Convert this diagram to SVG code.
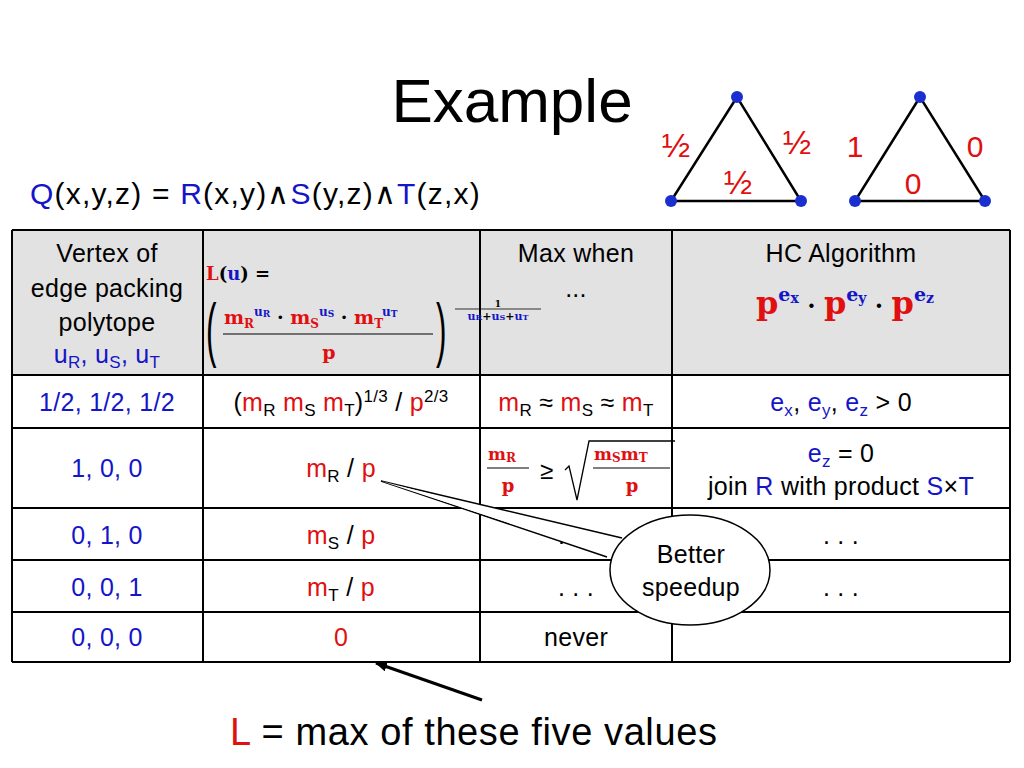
<svg xmlns="http://www.w3.org/2000/svg" width="1024" height="768" viewBox="0 0 1024 768">
<style>
text{font-family:"Liberation Sans",Arial,sans-serif;fill:#000}
.c{text-anchor:middle;font-size:25px;letter-spacing:0.3px}
.b{fill:#1515c8}.r{fill:#e01010}
.s{font-size:17px}
.m{font-family:"DejaVu Serif","Liberation Serif",serif;font-weight:bold}
.grid line{stroke:#000;stroke-width:2}
.dot{fill:#1a2fd0}
.edge{stroke:#000;stroke-width:2.5}
</style>
<defs><marker id="ah" markerWidth="12" markerHeight="10" refX="11" refY="5" orient="auto" markerUnits="userSpaceOnUse"><path d="M0,0L12,5L0,10z" fill="#000"/></marker></defs>
<rect width="1024" height="768" fill="#fff"/>
<text x="512" y="122" text-anchor="middle" font-size="62">Example</text>
<text x="30" y="204" font-size="30" letter-spacing="1.2"><tspan class="b">Q</tspan>(x,y,z) = <tspan class="b">R</tspan>(x,y)∧<tspan class="b">S</tspan>(y,z)∧<tspan class="b">T</tspan>(z,x)</text>
<g id="tri1">
<path class="edge" d="M737,97L671,201L801,201Z" fill="none"/>
<circle class="dot" cx="737" cy="97" r="6"/><circle class="dot" cx="671" cy="201" r="6"/><circle class="dot" cx="801" cy="201" r="6"/>
<text x="676" y="157" class="r" font-size="34" text-anchor="middle">½</text>
<text x="797" y="154" class="r" font-size="34" text-anchor="middle">½</text>
<text x="738" y="194" class="r" font-size="34" text-anchor="middle">½</text>
</g>
<g id="tri2">
<path class="edge" d="M920,97L855,201L985,201Z" fill="none"/>
<circle class="dot" cx="920" cy="97" r="6"/><circle class="dot" cx="855" cy="201" r="6"/><circle class="dot" cx="985" cy="201" r="6"/>
<text x="855" y="157" class="r" font-size="30" text-anchor="middle">1</text>
<text x="975" y="157" class="r" font-size="30" text-anchor="middle">0</text>
<text x="913" y="194" class="r" font-size="30" text-anchor="middle">0</text>
</g>
<g id="table">
<rect x="12" y="230" width="998" height="145" fill="#e2e2e2"/>
<g class="grid">
<line x1="12" y1="230" x2="1010" y2="230"/><line x1="12" y1="375" x2="1010" y2="375"/><line x1="12" y1="428" x2="1010" y2="428"/><line x1="12" y1="508" x2="1010" y2="508"/><line x1="12" y1="560" x2="1010" y2="560"/><line x1="12" y1="612" x2="1010" y2="612"/><line x1="12" y1="662" x2="1010" y2="662"/>
<line x1="12" y1="230" x2="12" y2="662"/><line x1="203" y1="230" x2="203" y2="662"/><line x1="480" y1="230" x2="480" y2="662"/><line x1="672" y1="230" x2="672" y2="662"/><line x1="1010" y1="230" x2="1010" y2="662"/>
</g>
<text class="c" x="107" y="262">Vertex of</text>
<text class="c" x="107" y="297">edge packing</text>
<text class="c" x="107" y="331">polytope</text>
<text class="c b" x="107" y="363">u<tspan class="s" dy="5">R</tspan><tspan dy="-5">, u</tspan><tspan class="s" dy="5">S</tspan><tspan dy="-5">, u</tspan><tspan class="s" dy="5">T</tspan></text>
<text x="206" y="280" class="m" font-size="18"><tspan class="r">L</tspan>(<tspan class="b">u</tspan>) =</text>
<text x="206" y="353" font-size="70" font-family="DejaVu Serif,serif" transform="translate(206,353) scale(0.45,1) translate(-206,-353)">(</text>
<text x="224" y="324" class="m r" font-size="19">m<tspan font-size="12" dy="4">R</tspan><tspan class="b" font-size="12" dy="-12">u</tspan><tspan class="b" font-size="9" dy="1">R</tspan><tspan fill="#000" dy="7"> · </tspan>m<tspan font-size="12" dy="4">S</tspan><tspan class="b" font-size="12" dy="-12">u</tspan><tspan class="b" font-size="9" dy="1">S</tspan><tspan fill="#000" dy="7"> · </tspan>m<tspan font-size="12" dy="4">T</tspan><tspan class="b" font-size="12" dy="-12">u</tspan><tspan class="b" font-size="9" dy="1">T</tspan></text>
<line x1="223" y1="334" x2="433" y2="334" stroke="#000" stroke-width="1"/>
<text x="329" y="359" class="m r" font-size="19" text-anchor="middle">p</text>
<text x="436" y="353" font-size="70" font-family="DejaVu Serif,serif" transform="translate(436,353) scale(0.45,1) translate(-436,-353)">)</text>
<text x="498" y="307" font-size="9" class="m" text-anchor="middle">1</text>
<line x1="455" y1="309" x2="541" y2="309" stroke="#000" stroke-width="0.8"/>
<text x="498" y="320" font-size="11" class="m b" text-anchor="middle">u<tspan font-size="8">R</tspan><tspan fill="#000">+</tspan>u<tspan font-size="8">S</tspan><tspan fill="#000">+</tspan>u<tspan font-size="8">T</tspan></text>
<text class="c" x="576" y="262">Max when</text>
<text class="c" x="576" y="297">...</text>
<text class="c" x="841" y="262">HC Algorithm</text>
<text x="845" y="314" class="m r" font-size="32" text-anchor="middle">p<tspan class="b" font-size="19" dy="-13">e</tspan><tspan class="b" font-size="14" dy="2">x</tspan><tspan fill="#000" font-size="24" dy="11"> · </tspan>p<tspan class="b" font-size="19" dy="-13">e</tspan><tspan class="b" font-size="14" dy="2">y</tspan><tspan fill="#000" font-size="24" dy="11"> · </tspan>p<tspan class="b" font-size="19" dy="-13">e</tspan><tspan class="b" font-size="14" dy="2">z</tspan></text>

<text class="c b" x="107" y="411">1/2,  1/2,  1/2</text>
<text class="c" x="341" y="411">(<tspan class="r">m</tspan><tspan class="s" dy="5">R</tspan><tspan class="r" dy="-5"> m</tspan><tspan class="s" dy="5">S</tspan><tspan class="r" dy="-5"> m</tspan><tspan class="s" dy="5">T</tspan><tspan dy="-5">)</tspan><tspan class="s" dy="-9">1/3</tspan><tspan dy="9"> / </tspan><tspan class="r">p</tspan><tspan class="s" dy="-9">2/3</tspan></text>
<text class="c" x="576" y="411"><tspan class="r">m</tspan><tspan class="s" dy="5">R</tspan><tspan dy="-5"> ≈ </tspan><tspan class="r">m</tspan><tspan class="s" dy="5">S</tspan><tspan dy="-5"> ≈ </tspan><tspan class="r">m</tspan><tspan class="s" dy="5">T</tspan></text>
<text class="c" x="841" y="411"><tspan class="b">e</tspan><tspan class="s b" dy="5">x</tspan><tspan dy="-5">, </tspan><tspan class="b">e</tspan><tspan class="s b" dy="5">y</tspan><tspan dy="-5">, </tspan><tspan class="b">e</tspan><tspan class="s b" dy="5">z</tspan><tspan dy="-5"> &gt; 0</tspan></text>

<text class="c b" x="107" y="477">1, 0, 0</text>
<text class="c" x="341" y="477"><tspan class="r">m</tspan><tspan class="s" dy="5">R</tspan><tspan dy="-5"> / </tspan><tspan class="r">p</tspan></text>
<text x="488" y="460" class="m r" font-size="17">m<tspan font-size="12" dy="2">R</tspan></text>
<line x1="487" y1="468" x2="529" y2="468" stroke="#000" stroke-width="1"/>
<text x="508" y="492" class="m r" font-size="18" text-anchor="middle">p</text>
<text x="540" y="479" font-size="24" font-family="DejaVu Serif,serif">≥</text>
<path d="M565,470L569,466L577,500L589,441L675,441" fill="none" stroke="#000" stroke-width="1.3"/>
<text x="594" y="460" class="m r" font-size="17">m<tspan font-size="12" dy="2">S</tspan><tspan dy="-2">m</tspan><tspan font-size="12" dy="2">T</tspan></text>
<line x1="593" y1="468" x2="670" y2="468" stroke="#000" stroke-width="1"/>
<text x="632" y="492" class="m r" font-size="18" text-anchor="middle">p</text>
<text class="c" x="841" y="462"><tspan class="b">e</tspan><tspan class="s b" dy="5">z</tspan><tspan dy="-5"> = 0</tspan></text>
<text class="c" x="841" y="495">join <tspan class="b">R</tspan> with product <tspan class="b">S</tspan>×<tspan class="b">T</tspan></text>

<text class="c b" x="107" y="544">0, 1, 0</text>
<text class="c" x="341" y="544"><tspan class="r">m</tspan><tspan class="s" dy="5">S</tspan><tspan dy="-5"> / </tspan><tspan class="r">p</tspan></text>
<text class="c" x="576" y="544">. . .</text>
<text class="c" x="841" y="544">. . .</text>
<text class="c b" x="107" y="596">0, 0, 1</text>
<text class="c" x="341" y="596"><tspan class="r">m</tspan><tspan class="s" dy="5">T</tspan><tspan dy="-5"> / </tspan><tspan class="r">p</tspan></text>
<text class="c" x="576" y="596">. . .</text>
<text class="c" x="841" y="596">. . .</text>
<text class="c b" x="107" y="646">0, 0, 0</text>
<text class="c r" x="341" y="646">0</text>
<text class="c" x="576" y="646">never</text>
</g>
<g id="callout">
<path d="M622,538L381,481L607,557" fill="#fff" stroke="#000" stroke-width="1.5"/>
<ellipse cx="690" cy="570" rx="80" ry="55" fill="#fff" stroke="#000" stroke-width="1.5"/>
<path d="M618,543L381,481L610,556" fill="#fff" stroke="none"/>
<text class="c" x="691" y="563">Better</text>
<text class="c" x="691" y="596">speedup</text>
</g>
<g id="connectors">
<line x1="482" y1="700" x2="376" y2="663" stroke="#000" stroke-width="3" marker-end="url(#ah)"/>
</g>
<text x="230" y="745" font-size="38" letter-spacing="0.6"><tspan class="r">L</tspan> = max of these five values</text>
</svg>
